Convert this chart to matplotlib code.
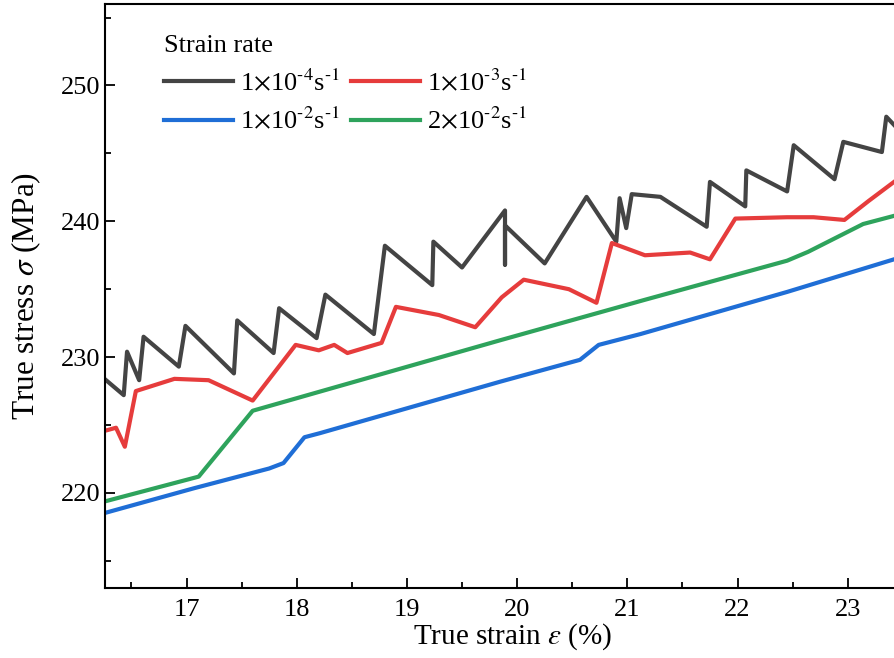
import matplotlib
matplotlib.use("Agg")
import matplotlib.pyplot as plt
from matplotlib.ticker import MultipleLocator

plt.rcParams['font.family'] = ['Liberation Serif', 'DejaVu Serif']
plt.rcParams['mathtext.fontset'] = 'stix'

# ---- data (true strain %, true stress MPa) ----
x_1e4 = [16.27, 16.43, 16.46, 16.57, 16.61, 16.93, 16.99, 17.43, 17.46, 17.79, 17.84, 18.18,
         18.26, 18.70, 18.80, 19.23, 19.24, 19.50, 19.89, 19.89, 19.89, 20.25, 20.63, 20.90,
         20.93, 20.99, 21.04, 21.30, 21.72, 21.75, 22.07, 22.08, 22.45, 22.51, 22.88, 22.96,
         23.31, 23.35, 23.42]
y_1e4 = [228.3, 227.2, 230.4, 228.3, 231.5, 229.3, 232.3, 228.8, 232.7, 230.3, 233.6, 231.4,
         234.6, 231.7, 238.2, 235.3, 238.5, 236.6, 240.8, 236.8, 239.7, 236.9, 241.8, 238.5,
         241.7, 239.5, 242.0, 241.8, 239.6, 242.9, 241.1, 243.75, 242.2, 245.6, 243.1, 245.85,
         245.1, 247.7, 247.1]

x_1e3 = [16.27, 16.36, 16.44, 16.54, 16.89, 17.20, 17.60, 17.99, 18.20, 18.34, 18.46, 18.77,
         18.90, 19.29, 19.62, 19.86, 20.06, 20.47, 20.72, 20.86, 21.16, 21.57, 21.75, 21.98,
         22.45, 22.69, 22.97, 23.19, 23.42]
y_1e3 = [224.6, 224.8, 223.4, 227.5, 228.4, 228.3, 226.8, 230.9, 230.5, 230.9, 230.3, 231.05,
         233.7, 233.1, 232.2, 234.4, 235.7, 235.0, 234.0, 238.4, 237.5, 237.7, 237.2, 240.2,
         240.3, 240.3, 240.1, 241.5, 242.9]

x_1e2 = [16.27, 17.07, 17.75, 17.88, 18.07, 18.21, 19.85, 20.57, 20.74, 21.12, 22.45, 23.42]
y_1e2 = [218.55, 220.35, 221.8, 222.2, 224.1, 224.4, 228.2, 229.8, 230.9, 231.7, 234.8, 237.2]

x_2e2 = [16.27, 17.11, 17.60, 19.85, 21.15, 22.45, 22.64, 23.14, 23.42]
y_2e2 = [219.4, 221.2, 226.05, 231.25, 234.2, 237.1, 237.75, 239.8, 240.4]

labels = ['1$\\times$10$^{\u20104}$s$^{\u20101}$', '1$\\times$10$^{\u20103}$s$^{\u20101}$',
          '1$\\times$10$^{\u20102}$s$^{\u20101}$', '2$\\times$10$^{\u20102}$s$^{\u20101}$']
colors = ['#444444', '#e63c3c', '#1f6ed6', '#2ea35c']

fig = plt.figure(figsize=(8.94, 6.58), dpi=100)
ax = fig.add_axes([105/894, 70/658, 1 - 105/894, (588 - 4)/658])

lw = 3.0
h1, = ax.plot(x_1e4, y_1e4, color=colors[0], lw=lw, label=labels[0])
h2, = ax.plot(x_1e3, y_1e3, color=colors[1], lw=lw, label=labels[1])
h3, = ax.plot(x_1e2, y_1e2, color=colors[2], lw=lw, label=labels[2])
h4, = ax.plot(x_2e2, y_2e2, color=colors[3], lw=lw, label=labels[3])

ax.set_xlim(16.26, 23.42)
ax.set_ylim(213.0, 256.0)
ax.xaxis.set_major_locator(MultipleLocator(1))
ax.xaxis.set_minor_locator(MultipleLocator(0.5))
ax.yaxis.set_major_locator(MultipleLocator(10))
ax.yaxis.set_minor_locator(MultipleLocator(5))
ax.tick_params(which='both', direction='in', width=1.3, labelsize=19, top=False, right=False)
ax.tick_params(which='major', length=7)
ax.tick_params(which='minor', length=4)
ax.tick_params(axis='x', pad=8)
ax.spines['right'].set_visible(False)
for s in ['left', 'bottom', 'top']:
    ax.spines[s].set_linewidth(1.5)

ax.set_xlabel(r'True strain $\varepsilon$ (%)', fontsize=21)
ax.xaxis.set_label_coords(0.517, -0.057)
ax.set_ylabel(r'True stress $\sigma$ (MPa)', fontsize=22.5)
ax.yaxis.set_label_coords(-0.078, 0.5)

leg = ax.legend(handles=[h1, h3, h2, h4], ncol=2, frameon=False, fontsize=19,
                title='Strain rate', title_fontsize=19, loc='upper left',
                bbox_to_anchor=(0.062, 0.965), handlelength=2.6, handletextpad=0.28,
                columnspacing=0.42, labelspacing=0.45, borderaxespad=0.0)
leg._legend_box.align = 'left'

fig.savefig('out.png', dpi=100)
